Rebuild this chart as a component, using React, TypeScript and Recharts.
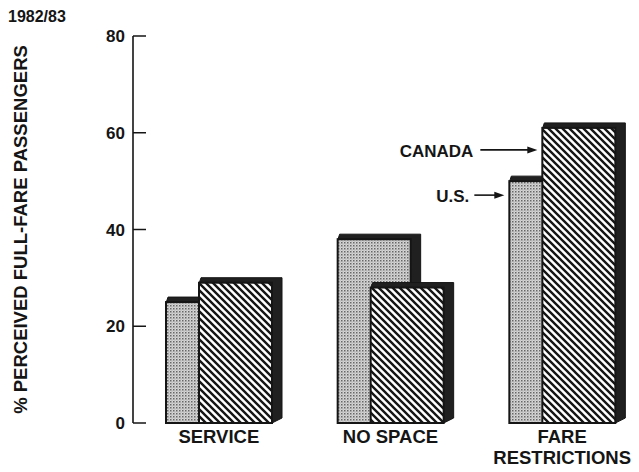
import { BarChart, Bar, XAxis, YAxis } from 'recharts';

const categories = ['SERVICE', 'NO SPACE', 'FARE\nRESTRICTIONS'];
const usValues = [25, 38, 50];
const canadaValues = [29, 28, 61];
const usNotes = ['', '', 'U.S.'];
const canadaNotes = ['', '', 'CANADA'];
const yTicks = [0, 20, 40, 60, 80];

const data = categories.map((name, i) => ({
  name,
  us: usValues[i],
  canada: canadaValues[i],
  usNote: usNotes[i],
  canadaNote: canadaNotes[i],
}));

const FONT = '"Liberation Sans", Arial, Helvetica, sans-serif';
const INK = '#151515';
// depth of the extruded side/top faces
const DX = 10;
const DY = 5;

function Arrow({ x, y, text, len, textGap }: any) {
  const tip = x - 5;
  const start = tip - len;
  return (
    <g>
      <text x={start - textGap} y={y + 7} textAnchor="end" fontFamily={FONT} fontWeight={700} fontSize={17} fill={INK}>
        {text}
      </text>
      <line x1={start} y1={y} x2={tip - 7} y2={y} stroke={INK} strokeWidth={1.6} />
      <path d={`M${tip},${y} L${tip - 10},${y - 3.5} L${tip - 10},${y + 3.5} Z`} fill={INK} />
    </g>
  );
}

function Block3D(props: any) {
  const { x, y, width, height, fill, note, noteDrop, noteLen, noteGap } = props;
  const bottom = y + height;
  const right = x + width;
  return (
    <g>
      <path
        d={`M${x},${y + 1} L${x + 2},${y - DY} L${right + DX},${y - DY} L${right + DX},${bottom - DY} L${right},${bottom} Z`}
        fill="#202020"
        stroke={INK}
        strokeWidth={1}
        strokeLinejoin="round"
      />
      <rect x={x} y={y} width={width} height={height} fill={fill} stroke={INK} strokeWidth={2} />
      {note ? <Arrow x={x} y={y + noteDrop} text={note} len={noteLen} textGap={noteGap} /> : null}
    </g>
  );
}

function YTick({ x, y, payload }: any) {
  return (
    <g>
      <line x1={x} y1={y} x2={x + 13} y2={y} stroke={INK} strokeWidth={1.5} />
      <text x={x - 8} y={y + 6} textAnchor="end" fontFamily={FONT} fontWeight={700} fontSize={17} fill={INK}>
        {payload.value}
      </text>
    </g>
  );
}

function XTick({ x, y, payload }: any) {
  const lines = String(payload.value).split('\n');
  return (
    <text x={x} y={y + 20} textAnchor="middle" fontFamily={FONT} fontWeight={700} fontSize={18.5} fill={INK}>
      {lines.map((line, i) => (
        <tspan key={i} x={x} dy={i === 0 ? 0 : 21}>
          {line}
        </tspan>
      ))}
    </text>
  );
}

function YTitle({ viewBox }: any) {
  const cx = viewBox.x - 53;
  const cy = viewBox.y + viewBox.height / 2;
  return (
    <text
      x={cx}
      y={cy}
      transform={`rotate(-90 ${cx} ${cy})`}
      textAnchor="middle"
      dominantBaseline="central"
      fontFamily={FONT}
      fontWeight={700}
      fontSize={18.5}
      fill={INK}
    >
      % PERCEIVED FULL-FARE PASSENGERS
    </text>
  );
}

export default function App() {
  return (
    <div style={{ position: 'relative', width: 631, height: 464, overflow: 'hidden', background: '#fff' }}>
      <div
        style={{
          position: 'absolute',
          left: 0,
          top: 0,
          fontFamily: FONT,
          fontWeight: 700,
          fontSize: 16,
          color: INK,
          lineHeight: '18px',
        }}
      >
        1982/83
      </div>
      <BarChart
        width={650}
        height={464}
        data={data}
        margin={{ top: 28, right: 10, bottom: 0, left: 65 }}
        barGap={-40}
      >
        <defs>
          <pattern id="stipple" width={3} height={3} patternUnits="userSpaceOnUse">
            <rect width={3} height={3} fill="#d6d6d6" />
            <rect x={0} y={0} width={1.5} height={1.5} fill="#666" />
            <rect x={1.5} y={1.5} width={1} height={1} fill="#999" />
          </pattern>
          <pattern id="hatch" width={7} height={7} patternUnits="userSpaceOnUse">
            <rect width={7} height={7} fill="#fff" />
            <path d="M-1,-1 L8,8 M-1,6 L1,8 M6,-1 L8,1" stroke={INK} strokeWidth={2.4} />
          </pattern>
        </defs>
        <XAxis
          dataKey="name"
          axisLine={false}
          tickLine={false}
          tickSize={0}
          tickMargin={0}
          height={49}
          interval={0}
          tick={<XTick />}
        />
        <YAxis
          domain={[0, 80]}
          ticks={yTicks}
          width={60}
          axisLine={{ stroke: INK, strokeWidth: 1.6 }}
          tickLine={false}
          tickSize={0}
          tickMargin={0}
          tick={<YTick />}
          label={<YTitle />}
        />
        <Bar
          dataKey="us"
          barSize={73}
          isAnimationActive={false}
          shape={(p: any) => (
            <Block3D {...p} fill="url(#stipple)" note={p.payload.usNote} noteDrop={14} noteLen={30} noteGap={5} />
          )}
        />
        <Bar
          dataKey="canada"
          barSize={73}
          isAnimationActive={false}
          shape={(p: any) => (
            <Block3D {...p} fill="url(#hatch)" note={p.payload.canadaNote} noteDrop={22} noteLen={57} noteGap={7} />
          )}
        />
      </BarChart>
    </div>
  );
}
